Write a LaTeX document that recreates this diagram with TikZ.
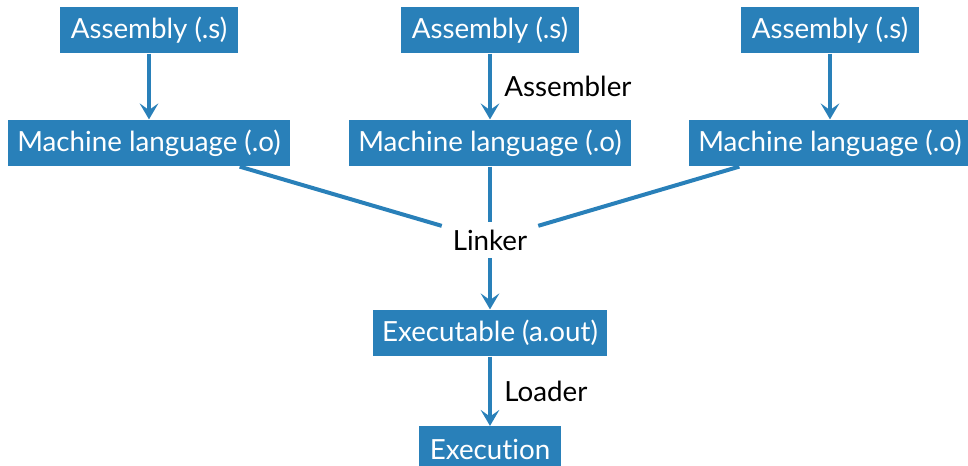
\documentclass[tikz,border=0pt]{standalone}
\usepackage{fontspec}
\setmainfont{Lato}[Ligatures=NoCommon]
\usetikzlibrary{positioning, arrows.meta}
\definecolor{boxblue}{RGB}{41,128,185}

\begin{document}
\begin{tikzpicture}[x=0.75pt, y=-0.75pt,
    % Blue boxes with white text
    box/.style={fill=boxblue, text=white, minimum height=35pt, inner sep=0pt,
      font=\fontsize{20.8}{24}\selectfont},
    % Plain black labels next to the connectors
    lbl/.style={text=black, font=\fontsize{20.8}{24}\selectfont},
    link/.style={draw=boxblue, line width=3pt},
    arr/.style={link, -{Stealth[length=12pt, width=14pt, inset=5pt]}}
  ]
  \useasboundingbox (0,0) rectangle (968,465);

  % --- Three columns: assembly file down to object file ---
  \foreach \i/\x in {1/149, 2/490, 3/830} {
    \node[box, minimum width=134pt] (a\i) at (\x, 30) {Assembly (.s)};
    \node[box, minimum width=211.5pt] (m\i) at (\x, 143) {Machine language (.o)};
  }
  \draw[arr] (a1) -- (m1);
  \draw[arr] (a2) -- node[lbl, right=6pt] {Assembler} (m2);
  \draw[arr] (a3) -- (m3);

  % --- Linking step ---
  \node[lbl, minimum width=72pt, minimum height=27pt, inner sep=0pt] (linker) at (490, 240) {Linker};
  \coordinate (m1out) at ([xshift=68pt]m1.south);
  \coordinate (m3out) at ([xshift=-68pt]m3.south);
  \draw[link] (m1out) -- (linker);
  \draw[link] (m2) -- (linker);
  \draw[link] (m3out) -- (linker);

  % --- Executable and loading ---
  \node[box, minimum width=175.5pt] (exe) at (490, 333) {Executable (a.out)};
  \node[box, minimum width=106pt] (run) at (490, 449.5) {Execution};
  \draw[arr] (linker) -- (exe);
  \draw[arr] (exe) -- node[lbl, right=6pt] {Loader} (run);
\end{tikzpicture}
\end{document}
